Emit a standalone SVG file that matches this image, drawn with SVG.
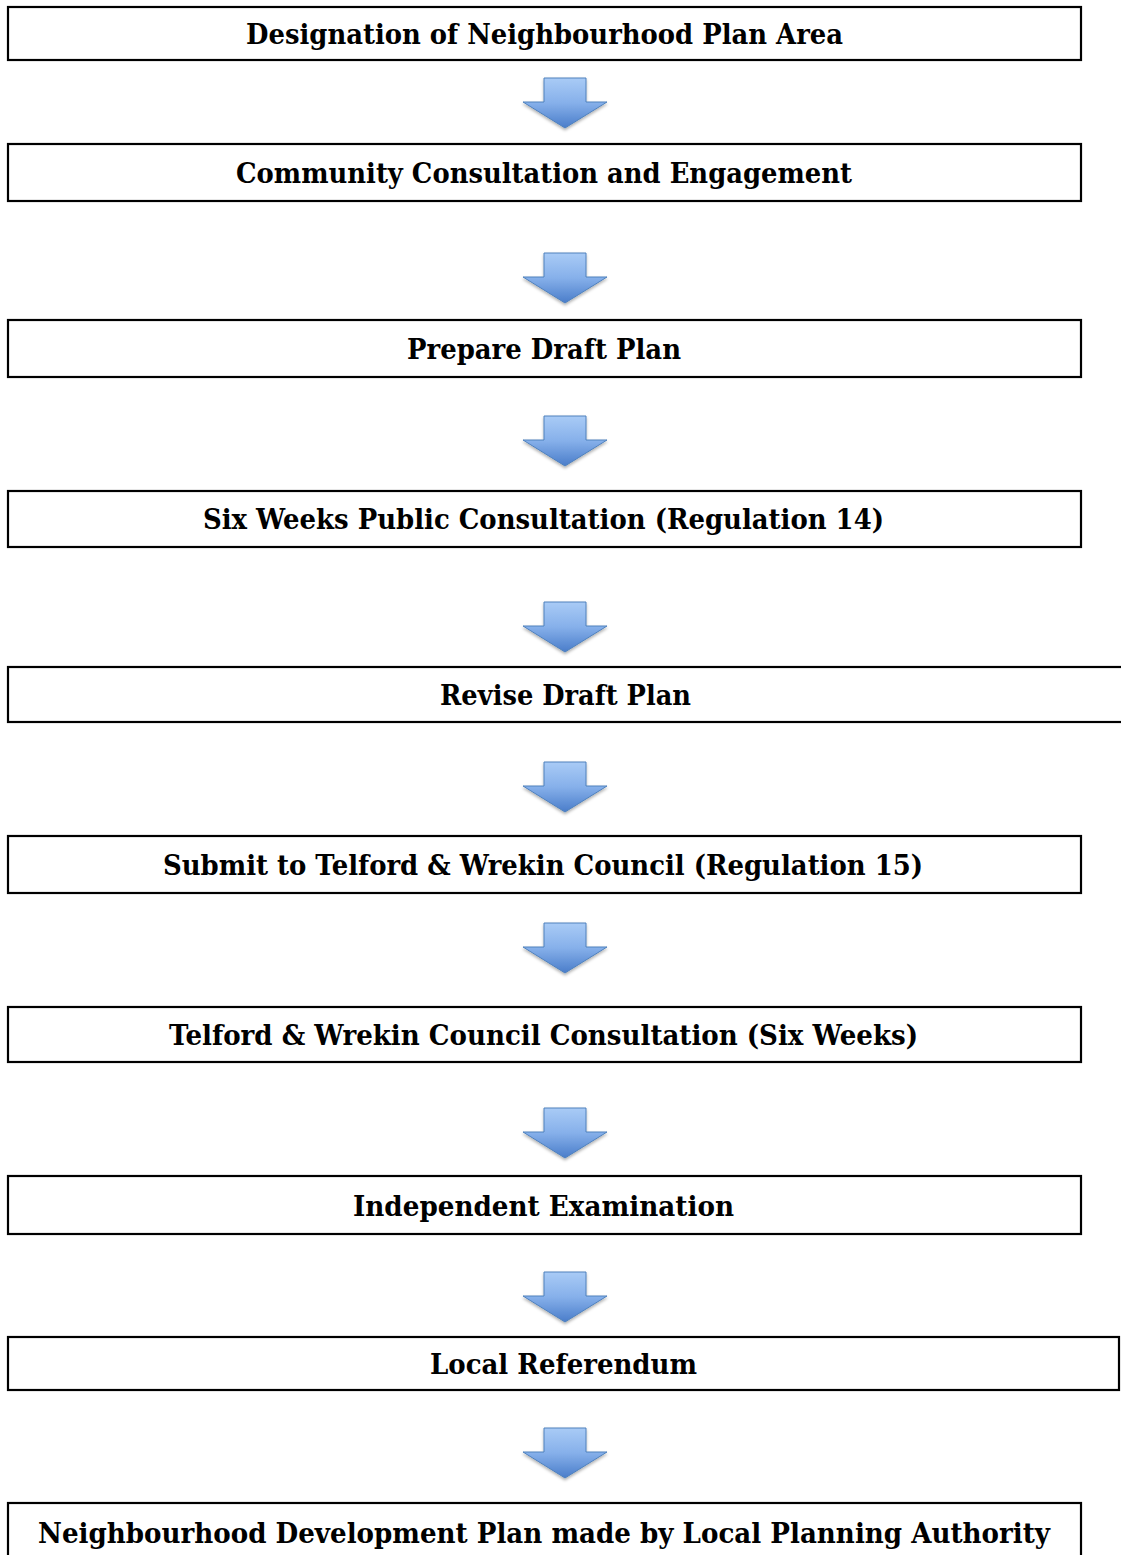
<svg xmlns="http://www.w3.org/2000/svg" width="1121" height="1555" viewBox="0 0 1121 1555">
<style>
.box{fill:#fff;stroke:#000;stroke-width:2.2}
.t{font-family:"DejaVu Serif","Liberation Serif",serif;font-weight:bold;font-size:27.5px;fill:#000;text-anchor:middle}
.arr{fill:url(#g);stroke:#4f81bd;stroke-width:1;filter:url(#sh)}
</style>
<defs>
<linearGradient id="g" x1="0" y1="0" x2="0" y2="1">
<stop offset="0" stop-color="#a9cbf6"/>
<stop offset="0.5" stop-color="#86b0ea"/>
<stop offset="1" stop-color="#4a7dca"/>
</linearGradient>
<filter id="sh" x="-20%" y="-20%" width="140%" height="150%">
<feDropShadow dx="0" dy="2" stdDeviation="1.5" flood-color="#000" flood-opacity="0.3"/>
</filter>
<path id="arrow" d="M-21,0 H21 V24 H42 L0,50 L-42,24 H-21 Z"/>
</defs>
<g id="connectors">
<use href="#arrow" class="arr" x="565" y="78"/>
<use href="#arrow" class="arr" x="565" y="253"/>
<use href="#arrow" class="arr" x="565" y="416"/>
<use href="#arrow" class="arr" x="565" y="602"/>
<use href="#arrow" class="arr" x="565" y="762"/>
<use href="#arrow" class="arr" x="565" y="923"/>
<use href="#arrow" class="arr" x="565" y="1108"/>
<use href="#arrow" class="arr" x="565" y="1272"/>
<use href="#arrow" class="arr" x="565" y="1428"/>
</g>
<g id="n1"><rect class="box" x="8" y="7" width="1073" height="53"/><text class="t" x="544.5" y="44" textLength="597" lengthAdjust="spacingAndGlyphs">Designation of Neighbourhood Plan Area</text></g>
<g id="n2"><rect class="box" x="8" y="144" width="1073" height="57"/><text class="t" x="544" y="183" textLength="616" lengthAdjust="spacingAndGlyphs">Community Consultation and Engagement</text></g>
<g id="n3"><rect class="box" x="8" y="320" width="1073" height="57"/><text class="t" x="544" y="359" textLength="274" lengthAdjust="spacingAndGlyphs">Prepare Draft Plan</text></g>
<g id="n4"><rect class="box" x="8" y="491" width="1073" height="56"/><text class="t" x="543.5" y="529" textLength="681" lengthAdjust="spacingAndGlyphs">Six Weeks Public Consultation (Regulation 14)</text></g>
<g id="n5"><rect class="box" x="8" y="667" width="1125" height="55"/><text class="t" x="565.5" y="705" textLength="251" lengthAdjust="spacingAndGlyphs">Revise Draft Plan</text></g>
<g id="n6"><rect class="box" x="8" y="836" width="1073" height="57"/><text class="t" x="543" y="875" textLength="760" lengthAdjust="spacingAndGlyphs">Submit to Telford &amp; Wrekin Council (Regulation 15)</text></g>
<g id="n7"><rect class="box" x="8" y="1007" width="1073" height="55"/><text class="t" x="543.5" y="1045" textLength="749" lengthAdjust="spacingAndGlyphs">Telford &amp; Wrekin Council Consultation (Six Weeks)</text></g>
<g id="n8"><rect class="box" x="8" y="1176" width="1073" height="58"/><text class="t" x="543.5" y="1216" textLength="381" lengthAdjust="spacingAndGlyphs">Independent Examination</text></g>
<g id="n9"><rect class="box" x="8" y="1337" width="1111" height="53"/><text class="t" x="563.5" y="1374" textLength="267" lengthAdjust="spacingAndGlyphs">Local Referendum</text></g>
<g id="n10"><rect class="box" x="8" y="1503" width="1073" height="60"/><text class="t" x="544" y="1543" textLength="1012" lengthAdjust="spacingAndGlyphs">Neighbourhood Development Plan made by Local Planning Authority</text></g>
</svg>
